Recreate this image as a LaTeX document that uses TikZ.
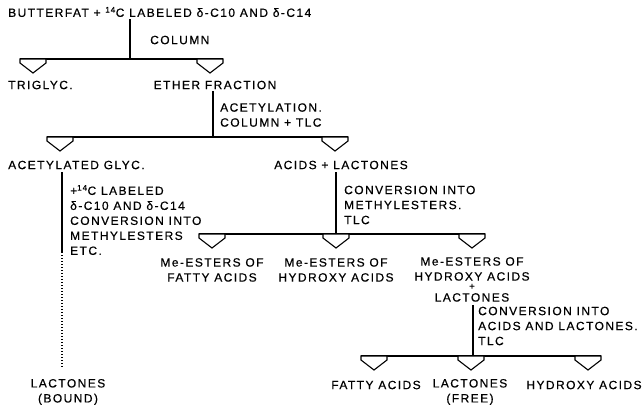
\documentclass[tikz,border=0pt]{standalone}
\usepackage{fontspec}
\setmainfont{Liberation Sans}[LetterSpace=12,FakeBold=0.5]
\begin{document}
\begin{tikzpicture}[x=1pt,y=-1pt,
  product/.style={inner sep=0pt,align=center,font=\fontsize{12}{15}\selectfont},
  steplabel/.style={inner sep=0pt,align=left,anchor=west,font=\fontsize{12}{15}\selectfont},
  bar/.style={line width=1.1pt},
  openhead/.pic={\draw[line width=1.1pt,fill=white] (-13,0) -- (-13,4) -- (0,14) -- (13,4) -- (13,0) -- cycle;}]
\useasboundingbox (0,0) rectangle (643,410);
\node[product,anchor=west] (butter) at (8,12) {BUTTERFAT + \textsuperscript{14}C LABELED δ-C10 AND δ-C14};
\coordinate (j1) at (130,59);
\coordinate (b1w) at (20,59);
\coordinate (b1e) at (223,59);
\draw[bar,shorten <=2pt] (butter.south -| j1) -- (j1);
\node[steplabel] (colstep) at (150,40) {COLUMN};
\draw[bar] (b1w) -- (b1e);
\pic at (33,59) {openhead};
\pic at (210,59) {openhead};
\node[product,anchor=west] (trig) at (8,85) {TRIGLYC.};
\node[product] (ether) at (215,85) {ETHER FRACTION};
\coordinate (j2) at (213,137);
\coordinate (b2w) at (47,137);
\coordinate (b2e) at (348,137);
\draw[bar,shorten <=2pt] (ether.south -| j2) -- (j2);
\node[steplabel] (acstep) at (220,115) {ACETYLATION.\\COLUMN + TLC};
\draw[bar] (b2w) -- (b2e);
\pic at (60,137) {openhead};
\pic at (335,137) {openhead};
\node[product,anchor=west] (acglyc) at (8,165) {ACETYLATED GLYC.};
\node[product] (acids) at (341,165) {ACIDS + LACTONES};
\coordinate (j3) at (62,252);
\draw[bar,shorten <=3pt] (acglyc.south -| j3) -- (j3);
\node[steplabel] (labstep) at (70,220) {+\textsuperscript{14}C LABELED\\δ-C10 AND δ-C14\\CONVERSION INTO\\METHYLESTERS\\ETC.};
\node[product] (bound) at (68,392) {LACTONES\\(BOUND)};
\draw[line width=1.3pt,dash pattern=on 1.3pt off 1.7pt,shorten >=10pt] (j3) -- (bound.north -| j3);
\coordinate (j4) at (336,234);
\coordinate (b3w) at (199,234);
\coordinate (b3e) at (485,234);
\draw[bar,shorten <=3pt] (acids.south -| j4) -- (j4);
\node[steplabel] (mestep) at (344,205) {CONVERSION INTO\\METHYLESTERS.\\TLC};
\draw[bar] (b3w) -- (b3e);
\pic at (212,234) {openhead};
\pic at (336,234) {openhead};
\pic at (472,234) {openhead};
\node[product,anchor=north] (mefa) at (212,258) {Me-ESTERS OF\\FATTY ACIDS};
\node[product,anchor=north] (meha) at (336,258) {Me-ESTERS OF\\HYDROXY ACIDS};
\node[product,anchor=north] (mehl) at (472,257) {Me-ESTERS OF\\HYDROXY ACIDS\\[-6pt]{\fontsize{10}{10}\selectfont +}\\[-3pt]LACTONES};
\coordinate (j5) at (473,356);
\coordinate (b4w) at (361,356);
\coordinate (b4e) at (601,356);
\draw[bar,shorten <=3pt] (mehl.south -| j5) -- (j5);
\node[steplabel] (frstep) at (478,326) {CONVERSION INTO\\ACIDS AND LACTONES.\\TLC};
\draw[bar] (b4w) -- (b4e);
\pic at (374,356) {openhead};
\pic at (471,356) {openhead};
\pic at (588,356) {openhead};
\node[product] (fatty) at (376,385) {FATTY ACIDS};
\node[product] (free) at (470,392) {LACTONES\\(FREE)};
\node[product] (hydroxy) at (584,385) {HYDROXY ACIDS};
\end{tikzpicture}
\end{document}
